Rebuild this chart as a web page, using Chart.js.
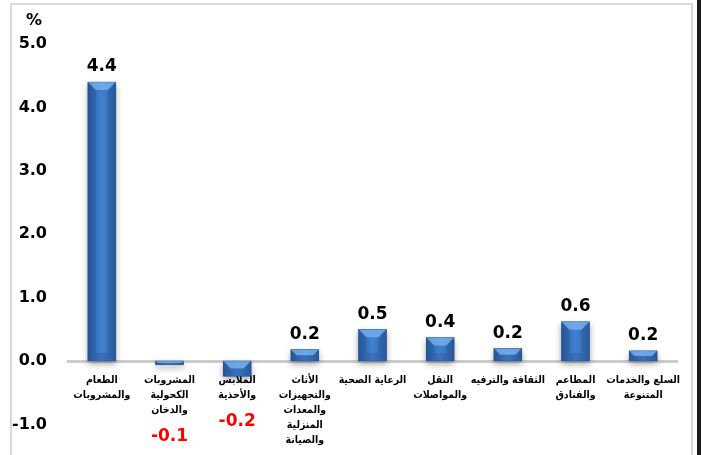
<!DOCTYPE html>
<html>
<head>
<meta charset="utf-8">
<script src="https://cdn.jsdelivr.net/npm/chart.js@4.4.1/dist/chart.umd.min.js"></script>
<style>
  html, body { margin: 0; padding: 0; background: #fff; }
  #wrap { position: relative; width: 701px; height: 455px; overflow: hidden; }
  #frame { position: absolute; left: 10px; top: 3px; width: 679px; height: 470px; border: 2px solid #d9d9d9; }
  #edge { position: absolute; left: 697px; top: 0; width: 4px; height: 455px; background: #1a1a1a; }
  canvas { position: absolute; left: 0; top: 0; }
</style>
</head>
<body>
<div id="wrap">
  <div id="frame"></div>
  <div id="edge"></div>
  <canvas id="c" width="701" height="455"></canvas>
</div>
<script>
const categories = [
  ['الطعام', 'والمشروبات'],
  ['المشروبات', 'الكحولية', 'والدخان'],
  ['الملابس', 'والأحذية'],
  ['الأثاث', 'والتجهيزات', 'والمعدات', 'المنزلية', 'والصيانة'],
  ['الرعاية الصحية'],
  ['النقل', 'والمواصلات'],
  ['الثقافة والترفيه'],
  ['المطاعم', 'والفنادق'],
  ['السلع والخدمات', 'المتنوعة']
];
const values = [4.4, -0.06, -0.24, 0.18, 0.5, 0.37, 0.2, 0.62, 0.16];
const yMin = -1;
const yMax = 5;
const yStep = 1;
const unitLabel = '%';

const barStyle = {
  id: 'barStyle',
  afterDatasetsDraw(chart) {
    const ctx = chart.ctx;
    const meta = chart.getDatasetMeta(0);
    const yScale = chart.scales.y;
    const zeroY = yScale.getPixelForValue(0);
    meta.data.forEach((el, i) => {
      const p = el.getProps(['x', 'y', 'base', 'width'], true);
      const x0 = p.x - p.width / 2, x1 = p.x + p.width / 2;
      const top = Math.min(p.y, p.base), bot = Math.max(p.y, p.base);
      const w = x1 - x0, h = bot - top;
      ctx.save();
      ctx.shadowColor = 'rgba(0,0,0,0.35)';
      ctx.shadowBlur = 6;
      ctx.shadowOffsetY = 3;
      const g = ctx.createLinearGradient(x0, 0, x1, 0);
      g.addColorStop(0, '#2b5c9d');
      g.addColorStop(0.5, '#4181d0');
      g.addColorStop(1, '#2d60a3');
      ctx.fillStyle = g;
      ctx.fillRect(x0, top, w, h);
      ctx.restore();
      const d = Math.min(8, h / 2, w / 2);
      const poly = (pts, col) => {
        ctx.beginPath();
        ctx.moveTo(pts[0][0], pts[0][1]);
        for (let k = 1; k < pts.length; k++) ctx.lineTo(pts[k][0], pts[k][1]);
        ctx.closePath();
        ctx.fillStyle = col;
        ctx.fill();
      };
      poly([[x0, top], [x0 + d, top + d], [x0 + d, bot - d], [x0, bot]], 'rgba(20,55,110,0.18)');
      poly([[x1, top], [x1 - d, top + d], [x1 - d, bot - d], [x1, bot]], 'rgba(20,55,110,0.18)');
      poly([[x0, top], [x1, top], [x1 - d, top + d], [x0 + d, top + d]], 'rgba(130,185,245,0.7)');
      poly([[x0, bot], [x1, bot], [x1 - d, bot - d], [x0 + d, bot - d]], 'rgba(30,70,130,0.25)');
      ctx.strokeStyle = 'rgba(30,70,130,0.5)';
      ctx.lineWidth = 0.6;
      ctx.strokeRect(x0, top, w, h);

      const v = values[i];
      const txt = v.toFixed(1);
      ctx.save();
      ctx.font = 'bold 17px "DejaVu Sans"';
      ctx.textAlign = 'center';
      ctx.textBaseline = 'middle';
      if (v >= 0) {
        ctx.fillStyle = '#000';
        ctx.fillText(txt, p.x, top - 15);
      } else {
        ctx.fillStyle = '#ff0000';
        const n = categories[i].length;
        ctx.fillText(txt, p.x, zeroY + 31 + n * 15);
      }
      ctx.restore();
    });
    ctx.save();
    ctx.font = 'bold 16px "DejaVu Sans"';
    ctx.fillStyle = '#000';
    ctx.textAlign = 'center';
    ctx.textBaseline = 'middle';
    ctx.fillText(unitLabel, 34, 21);
    ctx.restore();
  }
};

new Chart(document.getElementById('c'), {
  type: 'bar',
  data: {
    labels: categories,
    datasets: [{
      data: values,
      backgroundColor: '#3a75c0',
      borderWidth: 0,
      barPercentage: 0.414,
      categoryPercentage: 1
    }]
  },
  options: {
    responsive: false,
    animation: false,
    events: [],
    layout: { padding: { left: 10, right: 24, top: 44, bottom: 27 } },
    plugins: { legend: { display: false }, tooltip: { enabled: false } },
    scales: {
      x: {
        position: { y: 0 },
        grid: { display: false, drawTicks: false },
        border: { display: true, color: '#cccccc', width: 3 },
        ticks: {
          color: '#000',
          padding: 12,
          maxRotation: 0,
          autoSkip: false,
          font: { family: '"DejaVu Sans Condensed", "DejaVu Sans"', weight: 'bold', size: 10.5, lineHeight: 1.43 }
        }
      },
      y: {
        min: yMin,
        max: yMax,
        afterFit(scale) { scale.width = 58; },
        grid: { display: false, drawTicks: false },
        border: { display: false },
        ticks: {
          stepSize: yStep,
          color: '#000',
          padding: 21,
          font: { family: '"DejaVu Sans"', weight: 'bold', size: 16 },
          callback: v => Number(v).toFixed(1)
        }
      }
    }
  },
  plugins: [barStyle]
});
</script>
</body>
</html>
